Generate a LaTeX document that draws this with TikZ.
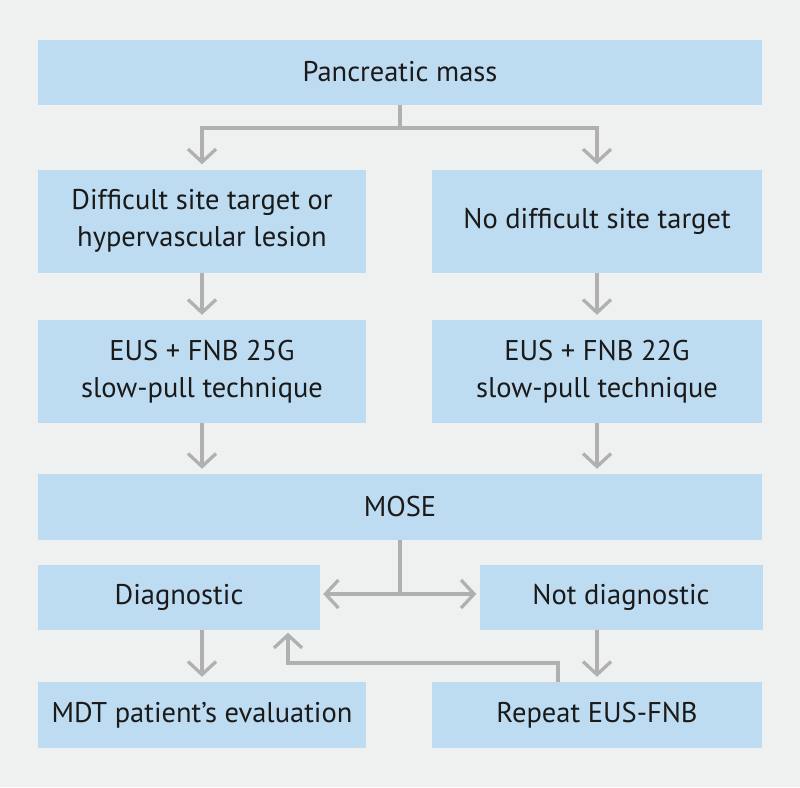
\documentclass[tikz,border=0pt]{standalone}
\usepackage{fontspec}
\setmainfont{PT Sans}
\usetikzlibrary{arrows.meta}
\definecolor{bgc}{HTML}{EFF0F0}
\definecolor{boxc}{HTML}{BEDCF1}
\definecolor{linec}{HTML}{B0B0B0}
\definecolor{txtc}{HTML}{1A1A1A}
\tikzset{
  box/.style={rectangle, fill=boxc, draw=none, inner sep=0pt, align=center,
    text=txtc, font=\fontsize{28.5}{36.5}\selectfont},
  conn/.style={draw=linec, line width=3.3pt},
  arr/.style={conn, -{Straight Barb[length=13pt, width=28pt, line width=3.3pt]}, shorten >=5pt}
}
\begin{document}
\begin{tikzpicture}[x=1pt, y=-1pt]
\fill[bgc] (0,0) rectangle (800,787);
\useasboundingbox (0,0) rectangle (800,787);
\node[box, minimum width=724pt, minimum height=65pt] (pm) at (400,72) {Pancreatic mass};
\node[box, minimum width=328pt, minimum height=103pt] (diff) at (202,221) {Difficult site target or\\hypervascular lesion};
\node[box, minimum width=330pt, minimum height=103pt] (nodiff) at (597,221) {No difficult site target};
\node[box, minimum width=328pt, minimum height=103pt] (eus25) at (202,371.5) {EUS + FNB 25G\\slow-pull technique};
\node[box, minimum width=330pt, minimum height=103pt] (eus22) at (597,371.5) {EUS + FNB 22G\\slow-pull technique};
\node[box, minimum width=724pt, minimum height=66pt] (mose) at (400,507) {MOSE};
\node[box, minimum width=282pt, minimum height=65pt] (diag) at (179,597) {Diagnostic};
\node[box, minimum width=283pt, minimum height=65pt] (notdiag) at (621,597) {Not diagnostic};
\node[box, minimum width=328pt, minimum height=66pt] (mdt) at (202,715) {MDT patient’s evaluation};
\node[box, minimum width=330pt, minimum height=66pt] (rep) at (597,715) {Repeat EUS-FNB};
% connectors
\coordinate (b1) at (400,128);
\draw[conn] (pm.south) -- (b1);
\draw[arr] (b1) -| (diff.north);
\draw[arr] (b1) -| (nodiff.north);
\draw[arr] (diff.south) -- (eus25.north);
\draw[arr] (nodiff.south) -- (eus22.north);
\draw[arr] (eus25.south) -- (eus25.south |- mose.north);
\draw[arr] (eus22.south) -- (eus22.south |- mose.north);
\coordinate (b2) at (400,594);
\draw[conn] (mose.south) -- (b2);
\draw[arr, shorten >=3pt] (b2) -- (b2 -| diag.east);
\draw[arr, shorten >=3pt] (b2) -- (b2 -| notdiag.west);
\draw[arr] (eus25.south |- diag.south) -- (eus25.south |- mdt.north);
\draw[arr] (notdiag.south -| rep.north) -- (rep.north);
\coordinate (r1) at (558,663);
\coordinate (r2) at (288,663);
\draw[arr, shorten >=3pt] (r1 |- rep.north) -- (r1) -- (r2) -- (r2 |- diag.south);
\end{tikzpicture}
\end{document}
